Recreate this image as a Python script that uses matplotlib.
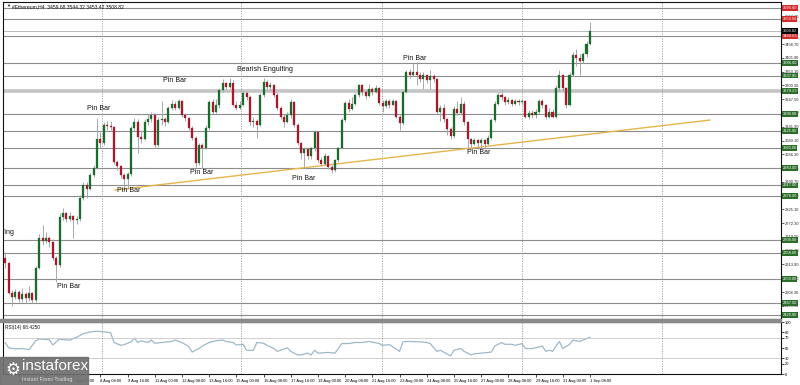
import numpy as np
import matplotlib.pyplot as plt
from matplotlib.patches import Rectangle

plt.rcParams['font.family'] = ['Liberation Sans', 'DejaVu Sans']

# ETH H4 candles (open of each bar = previous close)
first_open = 2640.0
closes = [2620, 2505, 2490, 2510, 2480, 2500, 2485, 2505, 2478, 2600,
          2715, 2705, 2715, 2700, 2640, 2612, 2796, 2810, 2790, 2800,
          2785, 2790, 2870, 2918, 2905, 2957, 2985, 3095, 3080, 3148,
          3145, 3140, 3007, 2990, 2957, 2940, 2962, 3137, 3160, 3102,
          3095, 3160, 3170, 3187, 3072, 3168, 3170, 3160, 3213, 3230,
          3215, 3240, 3187, 3175, 3137, 3098, 3003, 3070, 3060, 3137,
          3236, 3200, 3225, 3282, 3309, 3295, 3310, 3225, 3215, 3225,
          3270, 3255, 3160, 3165, 3150, 3263, 3313, 3295, 3300, 3265,
          3212, 3180, 3160, 3185, 3235, 3150, 3080, 3040, 3055, 3030,
          3060, 3120, 3014, 3000, 3030, 2987, 2975, 3015, 3060, 3168,
          3232, 3210, 3230, 3264, 3300, 3275, 3260, 3285, 3275, 3290,
          3232, 3220, 3240, 3225, 3240, 3180, 3155, 3275, 3351, 3340,
          3350, 3340, 3325, 3340, 3320, 3335, 3325, 3200, 3215, 3170,
          3135, 3105, 3210, 3195, 3230, 3160, 3095, 3075, 3090, 3080,
          3090, 3075, 3100, 3168, 3230, 3265, 3255, 3235, 3245, 3230,
          3240, 3235, 3240, 3180, 3195, 3185, 3200, 3240, 3225, 3180,
          3200, 3180, 3290, 3340, 3290, 3225, 3340, 3417, 3405, 3395,
          3420, 3459.68, 3508.82]
highs = [2660, 2625, 2515, 2520, 2515, 2525, 2510, 2530, 2510, 2610,
         2730, 2765, 2740, 2725, 2710, 2645, 2810, 2830, 2815, 2815,
         2805, 2800, 2880, 2930, 2930, 2965, 2995, 3175, 3120, 3160,
         3165, 3165, 3145, 3015, 2995, 2965, 2970, 3145, 3175, 3170,
         3130, 3170, 3190, 3200, 3195, 3180, 3240, 3180, 3220, 3245,
         3240, 3250, 3245, 3195, 3180, 3145, 3105, 3080, 3080, 3150,
         3245, 3250, 3250, 3290, 3325, 3315, 3330, 3320, 3240, 3240,
         3280, 3275, 3265, 3180, 3170, 3270, 3330, 3320, 3315, 3305,
         3275, 3220, 3190, 3200, 3250, 3240, 3155, 3085, 3065, 3060,
         3065, 3130, 3125, 3025, 3040, 3035, 2995, 3020, 3065, 3175,
         3240, 3250, 3255, 3270, 3305, 3305, 3285, 3305, 3295, 3300,
         3295, 3245, 3250, 3250, 3250, 3245, 3185, 3280, 3360, 3365,
         3385, 3390, 3350, 3350, 3345, 3360, 3345, 3330, 3225, 3230,
         3175, 3140, 3220, 3240, 3255, 3240, 3165, 3100, 3100, 3095,
         3100, 3095, 3110, 3175, 3240, 3275, 3285, 3260, 3255, 3250,
         3250, 3250, 3250, 3245, 3205, 3205, 3210, 3250, 3250, 3230,
         3215, 3210, 3300, 3360, 3345, 3295, 3350, 3430, 3440, 3420,
         3430, 3470, 3544.32]
lows = [2600, 2500, 2455, 2480, 2470, 2470, 2465, 2475, 2465, 2470,
        2595, 2690, 2695, 2680, 2630, 2545, 2605, 2785, 2775, 2780,
        2715, 2770, 2780, 2860, 2870, 2900, 2950, 2980, 3060, 3070,
        3130, 3130, 3000, 2975, 2945, 2900, 2905, 2955, 3125, 3040,
        3080, 3090, 3150, 3160, 3060, 3065, 3150, 3145, 3155, 3205,
        3205, 3210, 3180, 3165, 3130, 3090, 2988, 2995, 2985, 3055,
        3130, 3190, 3195, 3215, 3275, 3285, 3290, 3220, 3205, 3210,
        3220, 3245, 3150, 3140, 3100, 3145, 3255, 3280, 3280, 3255,
        3205, 3170, 3140, 3155, 3175, 3140, 3070, 3020, 2988, 3020,
        3020, 3050, 3005, 2990, 2995, 2980, 2965, 2970, 3005, 3055,
        3160, 3200, 3205, 3225, 3255, 3265, 3250, 3255, 3265, 3270,
        3225, 3200, 3215, 3215, 3225, 3175, 3130, 3150, 3270, 3330,
        3335, 3300, 3315, 3285, 3310, 3285, 3315, 3190, 3165, 3160,
        3110, 3095, 3100, 3185, 3190, 3150, 3062, 3058, 3070, 3058,
        3058, 3065, 3070, 3095, 3160, 3225, 3245, 3225, 3230, 3220,
        3225, 3225, 3228, 3175, 3170, 3175, 3175, 3190, 3215, 3170,
        3175, 3175, 3175, 3280, 3280, 3215, 3220, 3335, 3375, 3340,
        3385, 3410, 3453.42]

date_labels = ["4 Aug 08:00", "5 Aug 16:00", "7 Aug 00:00", "8 Aug 08:00",
               "9 Aug 16:00", "11 Aug 00:00", "12 Aug 08:00", "13 Aug 16:00",
               "15 Aug 00:00", "16 Aug 08:00", "17 Aug 16:00", "19 Aug 00:00",
               "20 Aug 08:00", "21 Aug 16:00", "23 Aug 00:00", "24 Aug 08:00",
               "25 Aug 16:00", "27 Aug 00:00", "28 Aug 08:00", "29 Aug 16:00",
               "31 Aug 00:00", "1 Sep 08:00"]

# support / resistance levels
green_levels = [3386.0, 3337.85, 3279.23, 3190.0, 3125.0, 3060.0, 2983.0,
                2917.0, 2876.0, 2708.0, 2658.0, 2558.0, 2467.0, 2420.0]
red_levels = [3596.6, 3554.5, 3489.63]
last_price = 3508.82

# trend line (bar index, price)
trend_bars = [32.3, 207.3]
trend_prices = [2899.5, 3167.6]

# pattern labels (text, bar index, price)
notes = [("Pin Bar", 18.6, 2528), ("Pin Bar", 27.4, 3213), ("Pin Bar", 36.4, 2899),
         ("Pin Bar", 49.9, 3321), ("Bearish Engulfing", 76.4, 3363),
         ("Pin Bar", 57.9, 2965), ("Pin Bar", 87.9, 2942), ("Pin Bar", 120.5, 3405),
         ("Pin Bar", 139.2, 3045)]

# RSI(14) (bar index, value)
rsi_bars = [0, 1, 3, 5, 7, 9, 10, 13, 14, 16, 17, 19, 21, 23, 25, 27, 29, 31,
            32, 34, 35, 37, 38, 39, 40, 42, 43, 44, 46, 49, 50, 52, 54, 55, 57,
            58, 60, 62, 64, 65, 67, 68, 70, 71, 73, 74, 76, 77, 79, 80, 83, 84,
            86, 87, 89, 90, 91, 92, 95, 97, 98, 99, 101, 103, 105, 107, 110,
            111, 113, 116, 117, 119, 122, 124, 125, 127, 128, 131, 132, 134,
            135, 137, 138, 140, 143, 144, 146, 147, 149, 150, 152, 153, 155,
            156, 158, 159, 160, 161, 163, 164, 166, 167, 169, 170, 172]
rsi_vals = [60.6, 50.3, 48.3, 49.0, 46.9, 63.9, 67.3, 66.0, 55.8, 67.3, 66.0,
            65.3, 70.7, 77.6, 81.0, 82.3, 81.0, 79.6, 60.6, 55.1, 56.5, 61.9,
            68.7, 60.6, 63.9, 60.6, 65.3, 59.2, 60.6, 62.6, 65.3, 60.6, 52.4,
            42.2, 49.0, 53.7, 60.6, 63.9, 65.3, 62.6, 60.6, 55.8, 57.1, 45.6,
            45.6, 60.6, 59.2, 55.1, 49.0, 43.5, 50.3, 43.5, 36.7, 36.7, 40.1,
            36.7, 45.6, 40.1, 41.5, 40.1, 49.0, 58.5, 58.5, 60.6, 60.6, 62.6,
            58.5, 55.1, 56.5, 43.5, 61.9, 62.6, 61.9, 60.6, 58.5, 43.5, 45.6,
            34.7, 45.6, 49.0, 43.5, 36.7, 38.8, 40.1, 42.2, 53.7, 60.6, 57.1,
            57.1, 55.1, 58.5, 49.0, 49.0, 50.3, 53.7, 43.5, 45.6, 43.5, 62.6,
            49.0, 57.1, 65.3, 62.6, 65.3, 70.7]

up_col = '#1c6a2c'
dn_col = '#a8182c'

opens = [first_open] + closes[:-1]
x = np.arange(len(closes))
o = np.array(opens)
c = np.array(closes)
h = np.array(highs)
l = np.array(lows)
cols = [up_col if cc >= oo else dn_col for oo, cc in zip(o, c)]

fig = plt.figure(figsize=(8, 3.85), dpi=100)
W, H = 800, 385
ax = fig.add_axes([3 / W, 1 - 319 / H, 778 / W, 317 / H])
ax2 = fig.add_axes([3 / W, 1 - 374 / H, 778 / W, 52 / H])

xlim = (-0.65, 228.2)
vgrid = [28.5, 69.3, 110.8, 152.0, 193.2]
fs_axis = 2.9

# main pane
for lv in green_levels:
    ax.axhline(lv, color='#8c8c8c', lw=0.8, zorder=1)
ax.axhline(3279.23, color='#c4c4c4', lw=2.6, zorder=1)
for lv in red_levels:
    ax.axhline(lv, color='#8c8c8c', lw=0.8, zorder=1)
ax.axhline(last_price, color='#b0b0b0', lw=0.6, zorder=1)
for v in vgrid:
    ax.axvline(v, color='#9a9a9a', lw=0.6, ls=(0, (1.5, 1.5)), zorder=1)

ax.plot(trend_bars, trend_prices, color='#e6b54a', lw=1.0, zorder=2)

ax.vlines(x, l, h, color='#a8a8a8', lw=0.7, zorder=3)
ax.bar(x, np.maximum(np.abs(c - o), 1.5), bottom=np.minimum(o, c), width=0.62,
       color=cols, edgecolor=cols, linewidth=0.2, zorder=4)

for txt, bx, py in notes:
    ax.text(bx, py, txt, fontsize=5, ha='center', va='center', color='#111111', zorder=5)
ax.text(2.6, 2738, "Bearish Engulfing", fontsize=5, ha='right', va='center',
        color='#111111', clip_on=True, zorder=5)

ax.set_xlim(*xlim)
ax.set_ylim(2405, 3620)
ax.set_xticks([])
yt = np.arange(2455.5, 3600, 52.8)
ax.yaxis.tick_right()
ax.set_yticks(yt)
ax.set_yticklabels([f'{v:.2f}' for v in yt])
ax.tick_params(axis='y', labelsize=fs_axis, length=2, width=0.5, pad=1, colors='#222222')
for s in ax.spines.values():
    s.set_linewidth(0.8)
    s.set_color('#111111')

ytr = ax.get_yaxis_transform()
for lv in green_levels:
    ax.text(1.002, lv, f'{lv:.2f}', transform=ytr, fontsize=fs_axis, color='white',
            va='center', ha='left', clip_on=False, zorder=6,
            bbox=dict(boxstyle='square,pad=0.2', fc='#2a6e2a', ec='none'))
for lv in red_levels:
    ax.text(1.002, lv, f'{lv:.2f}', transform=ytr, fontsize=fs_axis, color='white',
            va='center', ha='left', clip_on=False, zorder=6,
            bbox=dict(boxstyle='square,pad=0.2', fc='#d42a2a', ec='none'))
ax.text(1.002, last_price, f'{last_price:.2f}', transform=ytr, fontsize=fs_axis,
        color='white', va='center', ha='left', clip_on=False, zorder=7,
        bbox=dict(boxstyle='square,pad=0.2', fc='#000000', ec='none'))

ax.text(0.012, 0.993, "#Ethereum,H4  3459.68 3544.32 3453.42 3508.82",
        transform=ax.transAxes, fontsize=3.6, va='top', ha='left', color='#111111')
ax.text(0.004, 0.993, "\u25bc", transform=ax.transAxes, fontsize=3, va='top',
        ha='left', color='#111111')

# RSI pane
ax2.plot(rsi_bars, rsi_vals, color='#9db9c9', lw=0.9)
for lv in [70, 30]:
    ax2.axhline(lv, color='#c8c8c8', lw=0.6)
for v in vgrid:
    ax2.axvline(v, color='#9a9a9a', lw=0.6, ls=(0, (1.5, 1.5)))
ax2.set_xlim(*xlim)
ax2.set_ylim(0, 100)
ax2.yaxis.tick_right()
ax2.set_yticks([0, 20, 30, 50, 70, 80, 100])
ax2.tick_params(axis='y', labelsize=fs_axis, length=2, width=0.5, pad=1)
ax2.set_xticks(np.arange(4, len(closes), 8))
ax2.set_xticklabels(date_labels)
ax2.tick_params(axis='x', labelsize=fs_axis, length=2, width=0.5, pad=1.5)
for lbl in ax2.get_xticklabels():
    lbl.set_ha('left')
for s in ax2.spines.values():
    s.set_linewidth(0.8)
    s.set_color('#111111')
ax2.text(0.003, 0.95, "RSI(14) 68.4250", transform=ax2.transAxes, fontsize=3.4,
         va='top', ha='left', color='#111111')

# pane separator
fig.patches.append(Rectangle((0, 1 - 322 / H), 781 / W, 3 / H, transform=fig.transFigure,
                             color='#8a8a8a', zorder=10))

# logo
fig.patches.append(Rectangle((0, 0), 88 / W, 28 / H, transform=fig.transFigure,
                             color='#6f6f6f', alpha=0.92, zorder=20))
fig.text(22 / W, 12 / H, "instaforex", fontsize=11, color='white', ha='left',
         va='bottom', zorder=21)
fig.text(22 / W, 3 / H, "Instant Forex Trading", fontsize=3.8, color='#dddddd',
         ha='left', va='bottom', zorder=21)
fig.text(5 / W, 6 / H, "\u2699", fontsize=12, color='white', ha='left', va='bottom',
         zorder=21, family='DejaVu Sans')

fig.savefig('out.png', dpi=100)
